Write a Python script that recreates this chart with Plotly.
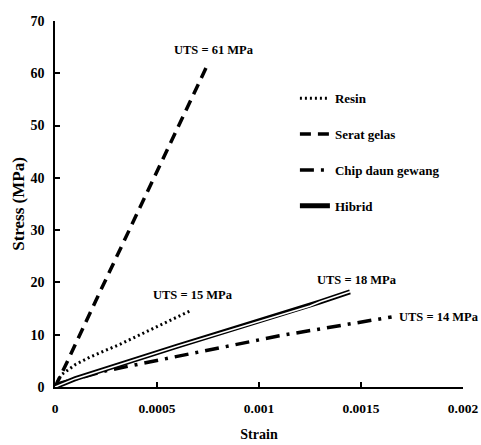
import plotly.graph_objects as go

# ---- data ----
resin_strain = [0, 0.00003, 0.0001, 0.00017, 0.00032, 0.0005, 0.00067]
resin_stress = [0, 2.3, 4.3, 5.7, 8.2, 11.5, 14.7]

glass_strain = [0, 0.00005, 0.0002, 0.0004, 0.0006, 0.00074]
glass_stress = [0, 4.0, 16.5, 33.0, 49.5, 61.0]

chip_strain = [0, 0.00003, 0.00025, 0.0006, 0.0011, 0.00165]
chip_stress = [0, 0.8, 3.1, 5.8, 9.8, 13.4]

hybrid_strain = [0, 0.0001, 0.0006, 0.00115, 0.00125, 0.0013, 0.001446]
hybrid_stress = [0, 1.6, 7.8, 14.4, 15.5, 16.3, 18.2]

series_names = ["Resin", "Serat gelas", "Chip daun gewang", "Hibrid"]
uts_labels = ["UTS = 15 MPa", "UTS = 61 MPa", "UTS = 14 MPa", "UTS = 18 MPa"]

x_ticks = [0, 0.0005, 0.001, 0.0015, 0.002]
x_ticktext = ["0", "0.0005", "0.001", "0.0015", "0.002"]
y_ticks = [0, 10, 20, 30, 40, 50, 60, 70]

FONT = "Liberation Serif"

fig = go.Figure()
fig.add_trace(go.Scatter(x=resin_strain, y=resin_stress, mode="lines", name=series_names[0],
                         legendgroup="a",
                         line=dict(color="black", width=3, dash="2px,3px")))
fig.add_trace(go.Scatter(x=glass_strain, y=glass_stress, mode="lines", name=series_names[1],
                         legendgroup="b",
                         line=dict(color="black", width=3.5, dash="11px,7px")))
fig.add_trace(go.Scatter(x=chip_strain, y=chip_stress, mode="lines", name=series_names[2],
                         legendgroup="c",
                         line=dict(color="black", width=3.5, dash="14px,7px,3px,7px")))
fig.add_trace(go.Scatter(x=hybrid_strain, y=hybrid_stress, mode="lines", name=series_names[3],
                         legendgroup="d",
                         line=dict(color="black", width=5)))
fig.add_trace(go.Scatter(x=hybrid_strain, y=hybrid_stress, mode="lines", showlegend=False,
                         hoverinfo="skip",
                         line=dict(color="white", width=1.6)))

ends = [(resin_strain, resin_stress, 1, 15, "center"),
        (glass_strain, glass_stress, 8, 18, "center"),
        (chip_strain, chip_stress, 5, 0, "left"),
        (hybrid_strain, hybrid_stress, 7, 12, "center")]
for (xs, ys, dx, dy, anc), lab in zip(ends, uts_labels):
    fig.add_annotation(x=xs[-1], y=ys[-1], text="<b>%s</b>" % lab, showarrow=False,
                       xshift=dx, yshift=dy, xanchor=anc,
                       font=dict(family=FONT, size=12.5, color="black"))

fig.update_layout(
    width=481, height=445,
    margin=dict(l=55, r=18, t=21, b=58),
    paper_bgcolor="white", plot_bgcolor="white",
    font=dict(family=FONT, size=13.5, color="black"),
    showlegend=True,
    legend=dict(x=0.588, y=0.83, xanchor="left", yanchor="top",
                bgcolor="rgba(0,0,0,0)", tracegroupgap=16,
                font=dict(family=FONT, size=13, color="black"),
                itemwidth=30),
)
fig.update_xaxes(range=[0, 0.002], tickvals=x_ticks, ticktext=["<b>%s</b>" % t for t in x_ticktext],
                 tickfont=dict(family=FONT, size=13.5),
                 showgrid=False, zeroline=False, showline=True, linecolor="black", linewidth=1.5,
                 ticks="inside", ticklen=5, tickcolor="black", tickwidth=1.5,
                 ticklabelstandoff=8,
                 title=dict(text="<b>Strain</b>", font=dict(family=FONT, size=14), standoff=14),
                 automargin=False)
fig.update_yaxes(range=[0, 70], tickvals=y_ticks, ticktext=["<b>%d</b>" % v for v in y_ticks],
                 tickfont=dict(family=FONT, size=14),
                 showgrid=False, zeroline=False, showline=True, linecolor="black", linewidth=1.5,
                 ticks="inside", ticklen=5, tickcolor="black", tickwidth=1.5,
                 ticklabelstandoff=6,
                 title=dict(text="<b>Stress (MPa)</b>", font=dict(family=FONT, size=17), standoff=2),
                 automargin=False)

for tr in fig.data:
    if tr.name:
        tr.name = "<b>%s</b>" % tr.name

# remove the default 8px page margin so the 481x445 figure fills the window exactly
fig.write_html("out.html",
               config={"displayModeBar": False},
               post_script="document.body.style.margin='0';document.body.style.overflow='hidden';")
